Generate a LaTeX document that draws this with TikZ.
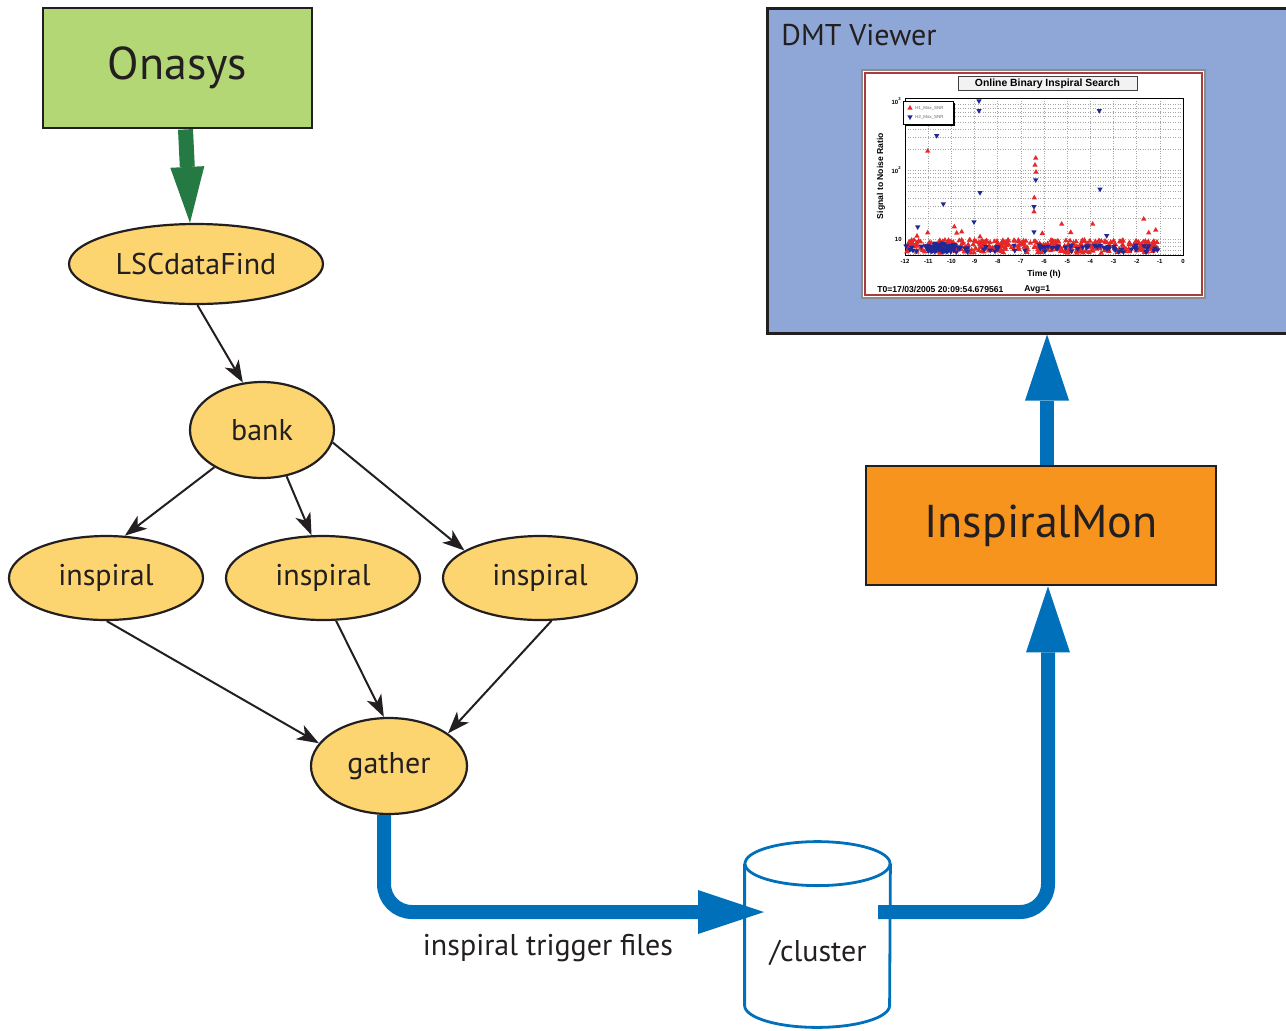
\documentclass[tikz,border=0pt]{standalone}
\usepackage{fontspec}
\setmainfont{PT Sans}
\newfontfamily\plotfont{Liberation Sans}
\usetikzlibrary{arrows.meta,shapes.geometric}
\definecolor{ink}{RGB}{35,31,32}
\definecolor{onagreen}{RGB}{179,215,116}
\definecolor{feedgreen}{RGB}{36,122,66}
\definecolor{jobfill}{RGB}{253,213,112}
\definecolor{monorange}{RGB}{247,148,29}
\definecolor{pipeblue}{RGB}{0,112,186}
\definecolor{dmtblue}{RGB}{143,167,215}
\definecolor{plotframe}{RGB}{170,60,60}
\definecolor{snrred}{RGB}{230,40,40}
\definecolor{snrblue}{RGB}{30,40,150}

\begin{document}
\begin{tikzpicture}[x=0.5pt,y=-0.5pt,
    box/.style={draw=ink,line width=1.4pt,inner sep=0pt,text=ink},
    job/.style={ellipse,draw=ink,line width=1.1pt,fill=jobfill,inner sep=0pt,text=ink,
      font=\fontsize{15}{18}\selectfont},
    dep/.style={draw=ink,line width=1pt,-{Stealth[length=11pt,width=8pt,inset=3pt]}},
    feed/.style={draw=feedgreen,line width=7.5pt,-{Triangle[length=28pt,width=17pt,line width=0pt]}},
    pipe/.style={draw=pipeblue,line width=7pt,rounded corners=14pt,
      -{Triangle[length=33pt,width=22pt,line width=0pt]}},
    plotgrid/.style={draw=black!35,line width=0.25pt,densely dotted},
    ticklabel/.style={inner sep=0pt,font=\plotfont\bfseries\fontsize{3}{3}\selectfont},
    axistitle/.style={inner sep=0pt,font=\plotfont\bfseries\fontsize{4.3}{5}\selectfont},
    hone/.pic={\fill[snrred] (0,-3) -- (2.7,1.7) -- (-2.7,1.7) -- cycle;},
    htwo/.pic={\fill[snrblue] (0,3) -- (2.7,-1.7) -- (-2.7,-1.7) -- cycle;},
  ]
  \useasboundingbox (0,0) rectangle (1286,1030);

  % workflow
  \node[box,fill=onagreen,minimum width=134.5pt,minimum height=60pt,
    font=\fontsize{23}{26}\selectfont] (onasys) at (177.5,68) {Onasys};
  \node[job,minimum width=127pt,minimum height=40pt] (lsc) at (196,264) {LSCdataFind};
  \node[job,minimum width=72pt,minimum height=48pt] (bank) at (262,430) {bank};
  \node[job,minimum width=97pt,minimum height=42pt] (insA) at (106,578) {inspiral};
  \node[job,minimum width=97pt,minimum height=42pt] (insB) at (323,578) {inspiral};
  \node[job,minimum width=97pt,minimum height=42pt] (insC) at (540,578) {inspiral};
  \node[job,minimum width=78pt,minimum height=48pt] (gather) at (389,766) {gather};

  \draw[feed] ([xshift=4pt]onasys.south) -- ([xshift=-3pt]lsc.north);
  \draw[dep] (lsc.-88) -- (bank.112);
  \draw[dep] (bank.218) -- (insA.66);
  \draw[dep] (bank.-62) -- (insB.105);
  \draw[dep] (bank.-10) -- (insC.160);
  \draw[dep] (insA.-89) -- (gather.162);
  \draw[dep] (insB.-73) -- (gather.96);
  \draw[dep] (insC.-75) -- (gather.29);

  % storage and monitor
  \node[inner sep=0pt,minimum width=72.5pt,minimum height=70.5pt] (cyl) at (817.5,934.5) {};
  \draw[pipeblue,line width=1.4pt,fill=white] (cyl.north west) -- (cyl.south west)
    arc[start angle=180,end angle=0,x radius=72.5,y radius=22] -- (cyl.north east);
  \draw[pipeblue,line width=1.4pt] (cyl.north) ellipse[x radius=72.5,y radius=22];
  \node[text=ink,font=\fontsize{15}{18}\selectfont] (cluster) at (818,953) {/cluster};
  \node[text=ink,font=\fontsize{15}{18}\selectfont] (trig) at (548,948) {inspiral trigger files};

  \node[box,fill=monorange,minimum width=175pt,minimum height=59.5pt,
    font=\fontsize{23}{26}\selectfont] (mon) at (1041,525.5) {InspiralMon};
  \node[box,fill=dmtblue,line width=1.5pt,minimum width=262pt,minimum height=162.5pt] (dmt) at (1029,170.5) {};
  \node[anchor=west,inner sep=0pt,text=ink,font=\fontsize{15}{18}\selectfont] (dmtname) at (781,35) {DMT Viewer};

  \coordinate (clin) at (764,912);
  \coordinate (clout) at (878,912);
  \coordinate (monup) at ([xshift=3pt]mon.north);
  \draw[pipe] ([xshift=-2.5pt]gather.south) |- (clin);
  \draw[pipe] (clout) -| ([xshift=3.5pt]mon.south);
  \draw[pipe] (monup) -- (monup |- dmt.south);

  % SNR plot in the viewer
  \draw[black!45,line width=0.6pt,fill=white] (862,70) rectangle (1205,298);
  \draw[plotframe,line width=1pt] (865,73) rectangle (1202,295);
  \node[draw=black!75,fill=black!5,line width=0.5pt,minimum width=89.5pt,minimum height=7pt,inner sep=0pt,
    font=\plotfont\bfseries\fontsize{5.2}{6}\selectfont] (ptitle) at (1047.5,83.5) {Online Binary Inspiral Search};

  \foreach \t in {1,...,11}
    \draw[plotgrid] (905+23.17*\t,98) -- (905+23.17*\t,255);
  \foreach \v in {6,7,8,9,10,20,30,40,50,60,70,80,90,100,200,300,400,500,600,700,800,900}{
    \pgfmathsetmacro\gy{239.3-69*(log10(\v)-1)}
    \draw[plotgrid] (905,\gy) -- (1183,\gy);
  }
  \draw[black,line width=0.5pt] (905,98) rectangle (1183,255);
  \foreach \t in {0,...,12}{
    \pgfmathtruncatemacro\tl{\t-12}
    \node[ticklabel] (xt\t) at (905+23.17*\t,261) {\tl};
  }
  \node[ticklabel,anchor=east] (ytA) at (902,239) {10};
  \node[ticklabel,anchor=east] (ytB) at (902,170) {10\textsuperscript{2}};
  \node[ticklabel,anchor=east] (ytC) at (902,101) {10\textsuperscript{3}};
  \node[axistitle,rotate=90] (ylab) at (881,176) {Signal to Noise Ratio};
  \node[axistitle] (xlab) at (1044,274) {Time (h)};
  \node[axistitle,anchor=west] (tzero) at (877,289) {T0=17/03/2005 20:09:54.679561};
  \node[axistitle,anchor=west] (avg) at (1024,289) {Avg=1};

  \pgfmathsetseed{2005}
  \foreach \i in {1,...,380}{
    \pgfmathsetmacro\px{906+252*rnd}
    \pgfmathsetmacro\py{240+13*rnd}
    \pic at (\px,\py) {hone};
  }
  \foreach \i in {1,...,55}{
    \pgfmathsetmacro\px{927+28*rnd}
    \pgfmathsetmacro\py{243+9*rnd}
    \pic at (\px,\py) {htwo};
  }
  \foreach \i in {1,...,80}{
    \pgfmathsetmacro\px{906+252*rnd}
    \pgfmathsetmacro\py{245+7*rnd}
    \pic at (\px,\py) {htwo};
  }
  \foreach \px/\py in {927.7/151,927.7/232.7,954.3/226.7,956.7/233,961.7/231.7,980/236.7,
      1035.7/158,1035/165,1036/172,1034.3/197.7,1034/211.7,1042.3/233.3,1061.7/224,
      1070.7/232.3,1070/240.7,1092.7/224,1099.3/241,1143.7/219,1148.7/232.7,1155.7/230,
      1143.3/241.7,1008/240,1026/241,917/236,914/240,945/240}
    \pic at (\px,\py) {hone};
  \foreach \px/\py in {936.7/135.7,943.3/204,917.7/227,979/101,979/110.7,980/192.7,
      974/222,1035.7/180,1034/206.7,1034/232,1099.3/110.7,1100/189.3,1106.7/235.7}
    \pic at (\px,\py) {htwo};

  \draw[black,line width=1pt] (954,103) -- (954,125) -- (905,125);
  \draw[black,line width=0.4pt,fill=white] (903,101) rectangle (953,124);
  \pic at (910,108) {hone};
  \pic at (910,117) {htwo};
  \node[anchor=west,inner sep=0pt,font=\plotfont\fontsize{2.2}{2.5}\selectfont,text=black!60] (lgA) at (915,108) {H1\_Max\_SNR};
  \node[anchor=west,inner sep=0pt,font=\plotfont\fontsize{2.2}{2.5}\selectfont,text=black!60] (lgB) at (915,117) {H2\_Max\_SNR};
\end{tikzpicture}
\end{document}
